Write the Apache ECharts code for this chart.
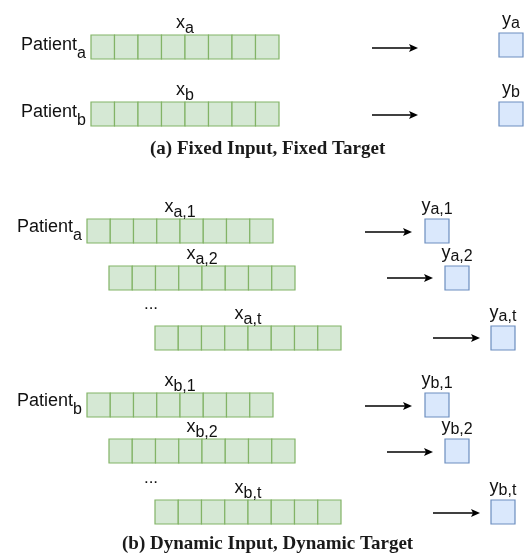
<!DOCTYPE html>
<html>
<head>
<meta charset="utf-8">
<style>
  html, body { margin: 0; padding: 0; background: #fff; }
  #main { width: 531px; height: 554px; }
</style>
<script src="https://cdn.jsdelivr.net/npm/echarts@6/dist/echarts.min.js"></script>
</head>
<body>
<div id="main"></div>
<script>
// input sequences (x), one strip of 8 cells each
const inputSubs = ["a", "b", "a,1", "a,2", "a,t", "b,1", "b,2", "b,t"];
const inputLeft = [91, 91, 87, 109, 155, 87, 109, 155];
const inputRight = [279, 279, 273, 295, 341, 273, 295, 341];
const inputTop = [35, 102, 219, 266, 326, 393, 439, 500];
const cellCount = 8;

// targets (y)
const targetSubs = ["a", "b", "a,1", "a,2", "a,t", "b,1", "b,2", "b,t"];
const targetLeft = [499, 499, 425, 445, 491, 425, 445, 491];
const targetTop = [33, 102, 219, 266, 326, 393, 439, 500];

// arrows
const arrowFrom = [372, 372, 365, 387, 433, 365, 387, 433];
const arrowTo = [418, 418, 412, 433, 480, 412, 433, 480];
const arrowY = [48, 115, 232, 278, 338, 406, 452, 513];

// patient names
const patientSubs = ["a", "b", "a", "b"];
const patientRight = [86, 86, 82, 82];
const patientMid = [46, 113, 228, 402];

// "..." between steps
const dotsX = [151, 151];
const dotsY = [304, 478];

const captions = ["(a) Fixed Input, Fixed Target", "(b) Dynamic Input, Dynamic Target"];

const BOX_H = 24;
const SANS = "Liberation Sans, Arial, sans-serif";

function rich(main, sub, x, y, align, vAlign, drop) {
  return {
    type: "text",
    style: {
      text: "{m|" + main + "}{s|" + sub + "}",
      x: x,
      y: y,
      align: align,
      verticalAlign: vAlign,
      fill: "#111",
      rich: {
        m: { fontSize: 18, fontFamily: SANS, lineHeight: 20, verticalAlign: "top", fill: "#111" },
        s: { fontSize: 16, fontFamily: SANS, lineHeight: 20, verticalAlign: "top", padding: [drop, 0, 0, 0], fill: "#111" },
      },
    },
  };
}

const chart = echarts.init(document.getElementById("main"));

const captionStyle = { fontFamily: "Liberation Serif, serif", fontWeight: "bold", fontSize: 19, color: "#1a1a1a" };

const option = {
  animation: false,
  title: [
    { text: captions[0], left: 145, top: 135, textStyle: captionStyle },
    { text: captions[1], left: 117, top: 530, textStyle: captionStyle },
  ],
  grid: { left: 0, right: 0, top: 0, bottom: 0 },
  xAxis: { type: "value", min: 0, max: 531, show: false },
  yAxis: { type: "value", min: 0, max: 554, inverse: true, show: false },
  series: [
    {
      // input strips + x labels
      type: "custom",
      silent: true,
      data: inputLeft.map((l, i) => [l, inputTop[i], inputRight[i]]),
      renderItem: function (params, api) {
        const i = params.dataIndex;
        const p0 = api.coord([api.value(0), api.value(1)]);
        const p1 = api.coord([api.value(2), api.value(1) + BOX_H]);
        const w = (p1[0] - p0[0]) / cellCount;
        const children = [];
        for (let k = 0; k < cellCount; k++) {
          children.push({
            type: "rect",
            shape: { x: p0[0] + k * w, y: p0[1], width: w, height: p1[1] - p0[1] },
            style: { fill: "#d5e8d4", stroke: "#82b366", lineWidth: 1.2 },
          });
        }
        children.push(rich("x", inputSubs[i], (p0[0] + p1[0]) / 2, p0[1] - 1, "center", "bottom", 7));
        return { type: "group", children: children };
      },
    },
    {
      // target boxes + y labels
      type: "custom",
      silent: true,
      data: targetLeft.map((l, i) => [l, targetTop[i]]),
      renderItem: function (params, api) {
        const i = params.dataIndex;
        const p0 = api.coord([api.value(0), api.value(1)]);
        const p1 = api.coord([api.value(0) + BOX_H, api.value(1) + BOX_H]);
        return {
          type: "group",
          children: [
            {
              type: "rect",
              shape: { x: p0[0], y: p0[1], width: p1[0] - p0[0], height: p1[1] - p0[1] },
              style: { fill: "#dae8fc", stroke: "#6c8ebf", lineWidth: 1.2 },
            },
            rich("y", targetSubs[i], (p0[0] + p1[0]) / 2, p0[1] - 2, "center", "bottom", 5),
          ],
        };
      },
    },
    {
      // arrows
      type: "custom",
      silent: true,
      data: arrowFrom.map((f, i) => [f, arrowTo[i], arrowY[i]]),
      renderItem: function (params, api) {
        const a = api.coord([api.value(0), api.value(2)]);
        const b = api.coord([api.value(1), api.value(2)]);
        return {
          type: "group",
          children: [
            {
              type: "line",
              shape: { x1: a[0], y1: a[1], x2: b[0] - 6, y2: b[1] },
              style: { stroke: "#000", lineWidth: 1.3 },
            },
            {
              type: "polygon",
              shape: { points: [[b[0], b[1]], [b[0] - 9, b[1] - 4], [b[0] - 7, b[1]], [b[0] - 9, b[1] + 4]] },
              style: { fill: "#000" },
            },
          ],
        };
      },
    },
    {
      // patient names
      type: "custom",
      silent: true,
      data: patientRight.map((r, i) => [r, patientMid[i]]),
      renderItem: function (params, api) {
        const i = params.dataIndex;
        const p = api.coord([api.value(0), api.value(1)]);
        return rich("Patient", patientSubs[i], p[0], p[1] - 10, "right", "top", 10);
      },
    },
    {
      // ellipsis
      type: "custom",
      silent: true,
      data: dotsX.map((x, i) => [x, dotsY[i]]),
      renderItem: function (params, api) {
        const p = api.coord([api.value(0), api.value(1)]);
        return {
          type: "text",
          style: { text: "...", x: p[0], y: p[1], align: "center", verticalAlign: "middle", fontSize: 17, fontFamily: SANS, fill: "#111" },
        };
      },
    },
  ],
};

chart.setOption(option);
</script>
</body>
</html>
